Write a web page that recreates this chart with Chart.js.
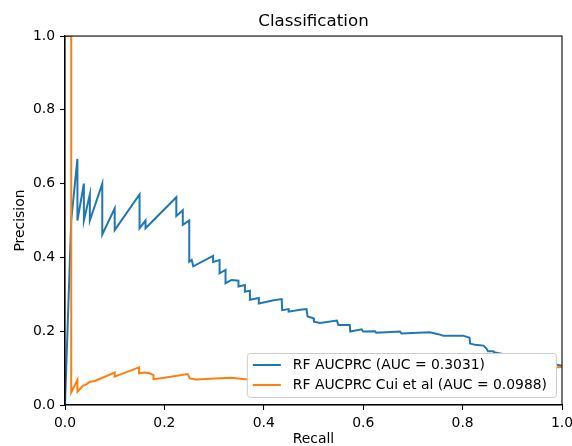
<!DOCTYPE html>
<html>
<head>
<meta charset="utf-8">
<script src="https://cdn.jsdelivr.net/npm/chart.js@4.4.1/dist/chart.umd.min.js"></script>
<style>
  html, body { margin: 0; padding: 0; background: #fff; }
  #wrap { width: 572px; height: 446px; }
</style>
</head>
<body>
<div id="wrap"><canvas id="chartPR" width="572" height="446"></canvas></div>
<script>
const rfRecall = [0, 0.0125, 0.025, 0.025, 0.038, 0.038, 0.05, 0.05, 0.075, 0.075, 0.1, 0.1, 0.15, 0.15,
  0.162, 0.162, 0.224, 0.224, 0.237, 0.237, 0.25, 0.25, 0.255, 0.258, 0.298, 0.298, 0.311, 0.311,
  0.323, 0.323, 0.335, 0.349, 0.349, 0.362, 0.362, 0.372, 0.372, 0.39, 0.39, 0.42, 0.436, 0.437,
  0.45, 0.45, 0.473, 0.486, 0.488, 0.5, 0.501, 0.513, 0.547, 0.55, 0.573, 0.574, 0.597, 0.6,
  0.624, 0.626, 0.674, 0.677, 0.734, 0.751, 0.761, 0.801, 0.814, 0.815, 0.825, 0.842, 0.848,
  0.851, 0.862, 0.863, 1.0];
const rfPrecision = [0, 0.5, 0.667, 0.5, 0.6, 0.5, 0.571, 0.5, 0.6, 0.462, 0.533, 0.474, 0.571, 0.479,
  0.5, 0.479, 0.563, 0.512, 0.528, 0.488, 0.5, 0.388, 0.393, 0.376, 0.404, 0.388, 0.393, 0.357,
  0.366, 0.33, 0.339, 0.337, 0.321, 0.325, 0.307, 0.31, 0.285, 0.29, 0.275, 0.284, 0.287, 0.257,
  0.26, 0.253, 0.258, 0.26, 0.24, 0.235, 0.226, 0.222, 0.229, 0.217, 0.217, 0.199, 0.205, 0.199,
  0.2, 0.196, 0.199, 0.194, 0.197, 0.192, 0.188, 0.188, 0.182, 0.167, 0.163, 0.161, 0.153,
  0.146, 0.146, 0.143, 0.106];

const cuiRecall = [0, 0.0125, 0.0125, 0.025, 0.025, 0.036, 0.043, 0.05, 0.06, 0.1, 0.1, 0.149, 0.149,
  0.16, 0.17, 0.178, 0.178, 0.2, 0.247, 0.251, 0.264, 0.301, 0.335, 0.362, 0.372, 0.45, 0.5,
  0.6, 0.7, 0.8, 0.9, 0.97, 1.0];
const cuiPrecision = [1.0, 1.0, 0.034, 0.068, 0.036, 0.052, 0.056, 0.063, 0.065, 0.088, 0.077, 0.102, 0.086,
  0.088, 0.086, 0.081, 0.07, 0.074, 0.084, 0.072, 0.069, 0.072, 0.074, 0.07, 0.07, 0.075, 0.072,
  0.078, 0.08, 0.085, 0.09, 0.1, 0.103];

const seriesNames = ['RF AUCPRC (AUC = 0.3031)', 'RF AUCPRC Cui et al (AUC = 0.0988)'];
const seriesColors = ['#1f77b4', '#ff7f0e'];
const tickValues = [0, 0.2, 0.4, 0.6, 0.8, 1.0];

const FONT = 'DejaVu Sans';

const pts = (xs, ys) => xs.map((x, i) => ({ x: x, y: ys[i] }));

// frame on all four sides + matplotlib style legend in lower right
const mplExtras = {
  id: 'mplExtras',
  afterDraw(chart){
    const ctx = chart.ctx, a = chart.chartArea;
    ctx.save();
    ctx.strokeStyle = '#000';
    ctx.lineWidth = 1.1;
    ctx.strokeRect(a.left, a.top, a.right - a.left, a.bottom - a.top);

    ctx.font = '13.9px "' + FONT + '"';
    const tw = Math.max(...seriesNames.map(s => ctx.measureText(s).width));
    const w = 6 + 28 + 12 + tw + 9, h = 44;
    const x0 = a.right - 6 - w, y0 = a.bottom - 8 - h;
    ctx.beginPath();
    ctx.roundRect(x0 + 0.5, y0 + 0.5, w, h, 3);
    ctx.fillStyle = '#fff';
    ctx.fill();
    ctx.strokeStyle = '#cccccc';
    ctx.lineWidth = 1;
    ctx.stroke();

    seriesNames.forEach((name, i) => {
      const y = y0 + 12 + i * 20;
      ctx.beginPath();
      ctx.moveTo(x0 + 6, y);
      ctx.lineTo(x0 + 34, y);
      ctx.strokeStyle = seriesColors[i];
      ctx.lineWidth = 2;
      ctx.stroke();
      ctx.fillStyle = '#000';
      ctx.textBaseline = 'middle';
      ctx.textAlign = 'left';
      ctx.fillText(name, x0 + 46, y);
    });
    ctx.restore();
  }
};

const axisCommon = {
  type: 'linear',
  min: 0,
  max: 1,
  afterBuildTicks: s => { s.ticks = tickValues.map(v => ({ value: v })); },
  ticks: { color: '#000', padding: 5, font: { family: FONT, size: 13.9 }, callback: v => v.toFixed(1) },
  grid: { drawOnChartArea: false, drawTicks: true, tickLength: 5, tickWidth: 1.1, tickColor: '#000' },
  border: { display: true, color: '#000', width: 1.1 }
};

new Chart(document.getElementById('chartPR'), {
  type: 'line',
  data: {
    datasets: [
      { label: seriesNames[0], data: pts(rfRecall, rfPrecision), borderColor: seriesColors[0],
        borderWidth: 2, pointRadius: 0, tension: 0, clip: 0, order: 2 },
      { label: seriesNames[1], data: pts(cuiRecall, cuiPrecision), borderColor: seriesColors[1],
        borderWidth: 2, pointRadius: 0, tension: 0, clip: 0, order: 1 }
    ]
  },
  options: {
    responsive: false,
    animation: false,
    layout: { padding: { left: 0, right: 10, top: 0, bottom: 0 } },
    plugins: {
      legend: { display: false },
      tooltip: { enabled: false },
      title: { display: true, text: 'Classification', fullSize: false, color: '#000',
        font: { family: FONT, size: 16.7, weight: 'normal' }, padding: { top: 12, bottom: 4 } }
    },
    scales: {
      x: Object.assign({}, axisCommon, {
        afterFit: s => { s.height = 41; s.paddingLeft = 0; s.paddingRight = 0; },
        title: { display: true, text: 'Recall', color: '#000', font: { family: FONT, size: 13.9 }, padding: { top: 0, bottom: -2 } }
      }),
      y: Object.assign({}, axisCommon, {
        afterFit: s => { s.width = 65; s.paddingTop = 0; s.paddingBottom = 0; },
        title: { display: true, text: 'Precision', color: '#000', font: { family: FONT, size: 13.9 }, padding: { top: 12, bottom: 0 } }
      })
    }
  },
  plugins: [mplExtras]
});
</script>
</body>
</html>
